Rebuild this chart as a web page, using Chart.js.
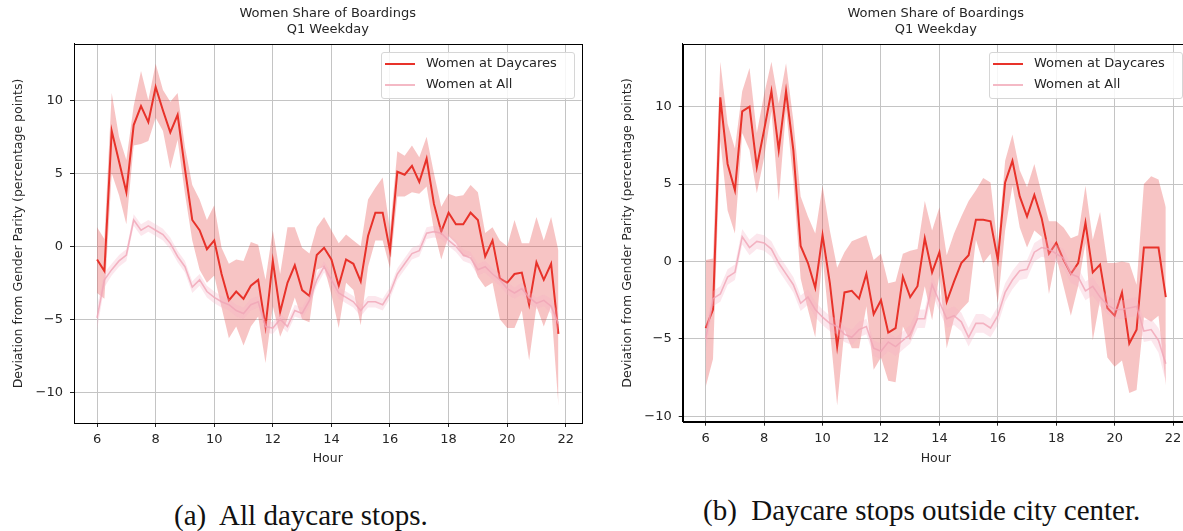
<!DOCTYPE html>
<html>
<head>
<meta charset="utf-8">
<script src="https://cdn.jsdelivr.net/npm/chart.js@4.4.1/dist/chart.umd.min.js"></script>
<style>
  html, body { margin: 0; padding: 0; background: #fff; }
  body { width: 1183px; height: 531px; overflow: hidden; position: relative; font-family: "DejaVu Sans", sans-serif; }
  canvas { position: absolute; top: 0; }
  #left-chart { left: 0; }
  #right-chart { left: 600px; }
  .legend { position: absolute; top: 52px; width: 194px; height: 47px; box-sizing: border-box;
            border: 1px solid #d6d6d6; border-radius: 3px; background: rgba(255,255,255,0.85);
            font-size: 13px; color: #262626; }
  .legend .row { position: absolute; left: 3px; height: 16px; line-height: 16px; white-space: nowrap; }
  .legend .swatch { display: inline-block; width: 30px; height: 0; vertical-align: middle; margin-right: 11px; }
  .caption { position: absolute; font-family: "Liberation Serif", "Times New Roman", serif; font-size: 29px;
             line-height: 34px; color: #111; white-space: nowrap; }
</style>
</head>
<body>
<canvas id="left-chart" width="595" height="470"></canvas>
<canvas id="right-chart" width="600" height="470"></canvas>

<div class="legend" style="left:381px;">
  <div class="row" style="top:2px;"><span class="swatch" style="border-top:2px solid #e8322a;"></span>Women at Daycares</div>
  <div class="row" style="top:23px;"><span class="swatch" style="border-top:2px solid #f4b9c5;"></span>Women at All</div>
</div>
<div class="legend" style="left:989px;">
  <div class="row" style="top:2px;"><span class="swatch" style="border-top:2px solid #e8322a;"></span>Women at Daycares</div>
  <div class="row" style="top:23px;"><span class="swatch" style="border-top:2px solid #f4b9c5;"></span>Women at All</div>
</div>

<div class="caption" style="left:174px; top:498px;">(a)&nbsp; All daycare stops.</div>
<div class="caption" style="left:703px; top:493px;">(b)&nbsp; Daycare stops outside city center.</div>

<script>
// quarter-hour bins
const hours = [6, 6.25, 6.5, 6.75, 7, 7.25, 7.5, 7.75, 8, 8.25, 8.5, 8.75, 9, 9.25, 9.5, 9.75,
  10, 10.25, 10.5, 10.75, 11, 11.25, 11.5, 11.75, 12, 12.25, 12.5, 12.75, 13, 13.25, 13.5, 13.75,
  14, 14.25, 14.5, 14.75, 15, 15.25, 15.5, 15.75, 16, 16.25, 16.5, 16.75, 17, 17.25, 17.5, 17.75,
  18, 18.25, 18.5, 18.75, 19, 19.25, 19.5, 19.75, 20, 20.25, 20.5, 20.75, 21, 21.25, 21.5, 21.75];

// (a) all daycare stops
const leftDaycare = [-0.9, -1.7, 7.9, 5.8, 3.7, 8.3, 9.6, 8.5, 10.9, 9.3, 7.8, 9.0, 5.3, 1.8, 1.1, -0.2,
  0.4, -1.9, -3.7, -3.1, -3.6, -2.7, -2.3, -5.5, -1.0, -4.5, -2.5, -1.3, -3.0, -3.4, -0.6, -0.1,
  -0.9, -2.7, -0.9, -1.2, -2.4, 0.7, 2.3, 2.3, -0.3, 5.1, 4.9, 5.5, 4.4, 6.0, 2.9, 1.0,
  2.3, 1.5, 1.5, 2.3, 1.8, -0.7, 0.4, -2.2, -2.5, -1.9, -1.8, -4.0, -1.1, -2.3, -1.2, -6.0];
const leftDaycareHigh = [1.3, 0.5, 10.5, 7.5, 5.9, 9.6, 12.0, 10.0, 12.5, 10.7, 9.9, 10.5, 6.8, 4.2, 3.2, 1.8,
  2.8, -0.1, -1.2, -0.9, -1.0, 0.3, 0.1, -2.3, 1.1, -1.9, 1.3, 1.3, -0.1, -0.5, 1.3, 2.0,
  1.1, 0.2, 0.8, 0.4, 0.0, 3.2, 4.0, 4.7, 1.1, 6.5, 6.2, 6.9, 6.1, 7.5, 5.0, 2.7,
  3.6, 3.4, 3.5, 4.2, 3.7, 0.9, 1.3, 0.4, 0.0, 1.8, 0.2, 0.2, 2.0, 0.4, 2.0, -0.3];
const leftDaycareLow = [-3.2, -3.6, 5.0, 3.5, 1.5, 6.9, 7.0, 7.2, 8.8, 7.9, 5.3, 7.3, 3.6, 0.4, -1.6, -2.5,
  -2.0, -4.2, -6.3, -5.5, -6.8, -5.5, -4.8, -8.0, -4.1, -6.2, -5.0, -3.5, -5.0, -5.2, -1.6, -1.4,
  -3.3, -5.6, -2.5, -3.0, -5.4, -1.4, 0.4, 0.4, -1.5, 3.4, 3.4, 3.7, 3.6, 4.1, 1.1, -0.9,
  0.7, 0.2, -0.7, -0.7, -2.1, -2.8, -2.5, -5.0, -5.6, -5.6, -4.4, -7.8, -4.1, -5.5, -4.1, -10.9];
const leftAll = [-4.9, -2.3, -1.6, -1.0, -0.6, 1.8, 1.1, 1.4, 1.1, 0.8, 0.2, -0.7, -1.4, -2.8, -2.3, -3.1,
  -3.5, -3.8, -4.0, -4.4, -4.6, -4.0, -3.8, -5.5, -5.6, -5.0, -5.5, -4.4, -4.6, -3.7, -2.3, -1.4,
  -2.3, -3.2, -3.5, -3.8, -4.4, -3.8, -3.8, -4.0, -3.2, -1.9, -1.2, -0.5, -0.3, 0.9, 1.0, 0.9,
  0.4, 0.0, -0.6, -0.8, -1.6, -1.4, -1.9, -2.3, -2.9, -3.2, -2.9, -3.5, -3.9, -3.7, -4.1, -5.3];
const leftAllHigh = [-4.1, -1.8, -1.2, -0.6, -0.2, 2.2, 1.5, 1.8, 1.5, 1.2, 0.6, -0.3, -1.0, -2.4, -1.9, -2.7,
  -3.1, -3.4, -3.6, -4.0, -4.2, -3.6, -3.4, -5.1, -5.2, -4.6, -5.1, -4.0, -4.2, -3.3, -1.9, -1.0,
  -1.9, -2.8, -3.1, -3.4, -4.0, -3.4, -3.4, -3.6, -2.8, -1.5, -0.8, -0.1, 0.1, 1.3, 1.4, 1.3,
  0.8, 0.4, -0.2, -0.4, -1.2, -1.0, -1.5, -1.9, -2.5, -2.8, -2.5, -3.1, -3.5, -3.3, -3.6, -4.6];
const leftAllLow = [-5.7, -2.8, -2.0, -1.4, -1.0, 1.4, 0.7, 1.0, 0.7, 0.4, -0.2, -1.1, -1.8, -3.2, -2.7, -3.5,
  -3.9, -4.2, -4.4, -4.8, -5.0, -4.4, -4.2, -5.9, -6.0, -5.4, -5.9, -4.8, -5.0, -4.1, -2.7, -1.8,
  -2.7, -3.6, -3.9, -4.2, -4.8, -4.2, -4.2, -4.4, -3.6, -2.3, -1.6, -0.9, -0.7, 0.5, 0.6, 0.5,
  0.0, -0.4, -1.0, -1.2, -2.0, -1.8, -2.3, -2.7, -3.3, -3.6, -3.3, -3.9, -4.3, -4.1, -4.6, -6.0];

// (b) daycare stops outside city center
const rightDaycare = [-4.3, -3.1, 10.6, 6.3, 4.6, 9.7, 10.0, 6.1, 8.5, 11.0, 7.2, 11.0, 7.2, 1.0, -0.1, -1.7,
  1.7, -1.4, -5.5, -2.0, -1.9, -2.4, -0.8, -3.4, -2.5, -4.6, -4.3, -1.0, -2.3, -1.6, 1.5, -0.7,
  0.6, -2.6, -1.3, -0.1, 0.4, 2.7, 2.7, 2.6, 0.1, 5.1, 6.5, 4.2, 2.9, 4.3, 2.8, 0.5,
  1.2, 0.1, -0.8, -0.1, 2.5, -0.7, -0.2, -3.0, -3.5, -2.0, -5.3, -4.4, 0.9, 0.9, 0.9, -2.3];
const rightDaycareHigh = [0.1, 0.2, 12.9, 8.9, 7.3, 11.0, 12.5, 8.3, 10.8, 12.9, 10.2, 12.8, 9.1, 4.2, 2.9, 1.8,
  4.9, 2.0, -0.4, 0.6, 1.3, 1.5, 1.7, 0.1, 0.5, -1.4, -1.3, 0.5, 0.7, 0.8, 3.9, 2.0,
  3.5, 0.4, 1.8, 2.9, 3.9, 4.6, 5.4, 5.1, 0.9, 6.5, 8.2, 5.9, 4.8, 6.3, 4.4, 2.6,
  2.6, 2.2, 1.5, 1.7, 4.9, 1.4, 3.2, -0.1, -0.1, 0.0, -0.1, -1.5, 5.0, 5.5, 5.3, 3.5];
const rightDaycareLow = [-8.1, -6.3, 7.8, 3.3, 1.8, 8.3, 7.2, 4.4, 6.7, 9.7, 3.9, 9.8, 5.2, -1.1, -3.1, -4.9,
  0.3, -4.4, -9.3, -4.4, -5.6, -5.6, -2.9, -7.0, -6.2, -7.7, -7.8, -4.2, -5.1, -3.8, -1.6, -3.8,
  -0.9, -5.6, -3.7, -3.1, -2.6, 1.4, -0.1, 0.5, -2.7, 2.0, 4.9, 2.2, 0.9, 2.0, 1.6, -2.1,
  0.3, -1.6, -3.5, -1.6, 1.2, -5.1, -2.5, -6.2, -6.8, -6.4, -8.5, -8.3, -3.6, -3.9, -3.5, -8.0];
const rightAll = [-5.0, -2.4, -2.1, -1.0, -0.7, 1.6, 0.9, 1.3, 1.2, 0.8, -0.1, -0.8, -1.5, -2.7, -2.3, -3.1,
  -3.6, -4.0, -4.2, -4.7, -4.9, -4.4, -4.2, -5.6, -5.8, -5.2, -5.5, -5.1, -4.7, -3.7, -3.7, -1.5,
  -2.6, -3.7, -3.5, -3.9, -4.9, -4.0, -4.0, -4.3, -3.5, -2.0, -1.2, -0.6, -0.5, 0.6, 0.9, 0.8,
  0.5, 0.2, -0.8, -1.0, -1.9, -1.6, -2.3, -2.8, -3.1, -3.1, -3.0, -2.9, -4.5, -4.4, -5.1, -6.6];
const rightAllHigh = [-4.2, -1.9, -1.6, -0.5, -0.2, 2.1, 1.4, 1.8, 1.7, 1.3, 0.4, -0.3, -1.0, -2.2, -1.8, -2.6,
  -3.1, -3.5, -3.7, -4.2, -4.4, -3.9, -3.7, -5.1, -5.3, -4.6, -4.9, -4.5, -4.1, -3.1, -3.1, -0.9,
  -2.0, -3.1, -2.9, -3.3, -4.3, -3.4, -3.4, -3.7, -2.9, -1.4, -0.6, 0.0, 0.1, 1.2, 1.5, 1.4,
  1.1, 0.8, -0.2, -0.4, -1.3, -1.0, -1.7, -2.2, -2.5, -2.5, -2.4, -2.3, -3.8, -3.7, -4.3, -5.4];
const rightAllLow = [-5.9, -2.9, -2.6, -1.5, -1.2, 1.1, 0.4, 0.8, 0.7, 0.3, -0.6, -1.3, -2.0, -3.2, -2.8, -3.6,
  -4.1, -4.5, -4.7, -5.2, -5.4, -4.9, -4.7, -6.1, -6.3, -5.8, -6.1, -5.7, -5.3, -4.3, -4.3, -2.1,
  -3.2, -4.3, -4.1, -4.5, -5.5, -4.6, -4.6, -4.9, -4.1, -2.6, -1.8, -1.2, -1.1, 0.0, 0.3, 0.2,
  -0.1, -0.4, -1.4, -1.6, -2.5, -2.2, -2.9, -3.4, -3.7, -3.7, -3.6, -3.5, -5.2, -5.1, -5.9, -7.8];

const chartTitle = ['Women Share of Boardings', 'Q1 Weekday'];
const xTitle = 'Hour';
const yTitle = 'Deviation from Gender Parity (percentage points)';

const RED = '#e8322a';
const RED_BAND = 'rgba(228, 60, 60, 0.3)';
const PINK = 'rgba(240, 165, 182, 0.8)';
const PINK_BAND = 'rgba(245, 175, 195, 0.3)';
const TEXT = '#262626';

function pts(arr) {
    return hours.map((h, i) => ({ x: h, y: arr[i] }));
}

// matplotlib-style box around the axes
const framePlugin = {
    id: 'frame',
    afterDraw(chart) {
        const { ctx, chartArea: a } = chart;
        ctx.save();
        ctx.strokeStyle = '#000';
        ctx.lineWidth = 1;
        ctx.strokeRect(Math.round(a.left) + 0.5, Math.round(a.top) + 0.5,
            Math.round(a.right - a.left), Math.round(a.bottom - a.top));
        ctx.restore();
    }
};

function makeChart(id, s, opts) {
    const datasets = [
        { label: 'Women at All', data: pts(s.all), borderColor: PINK, borderWidth: 1.6 },
        { label: 'all-high', data: pts(s.allHigh), borderWidth: 0, backgroundColor: PINK_BAND, fill: '+1' },
        { label: 'all-low', data: pts(s.allLow), borderWidth: 0 },
        { label: 'Women at Daycares', data: pts(s.day), borderColor: RED, borderWidth: 2 },
        { label: 'day-high', data: pts(s.dayHigh), borderWidth: 0, backgroundColor: RED_BAND, fill: '+1' },
        { label: 'day-low', data: pts(s.dayLow), borderWidth: 0 }
    ];
    datasets.forEach(d => { d.pointRadius = 0; d.tension = 0; if (!d.fill) d.fill = false; });

    return new Chart(document.getElementById(id), {
        type: 'line',
        data: { datasets },
        plugins: [framePlugin],
        options: {
            responsive: false,
            animation: false,
            devicePixelRatio: 1,
            layout: { padding: { left: 0, right: opts.rightPad, top: 0, bottom: 0 } },
            plugins: {
                legend: { display: false },
                tooltip: { enabled: false },
                title: {
                    display: true,
                    text: chartTitle,
                    fullSize: false,
                    color: TEXT,
                    font: { family: 'DejaVu Sans', size: 13, weight: 'normal', lineHeight: 1.23 },
                    padding: { top: 6, bottom: 6 }
                }
            },
            scales: {
                x: {
                    type: 'linear',
                    min: 5.2125,
                    max: 22.5375,
                    afterFit: sc => { sc.height = opts.xHeight; },
                    ticks: {
                        stepSize: 2,
                        includeBounds: false,
                        color: TEXT,
                        padding: 5,
                        maxRotation: 0,
                        font: { family: 'DejaVu Sans', size: 13 }
                    },
                    grid: { color: '#c4c4c4', lineWidth: 1, tickLength: 4, tickColor: '#222' },
                    border: { color: '#000', width: 1 },
                    title: {
                        display: true,
                        text: xTitle,
                        color: TEXT,
                        font: { family: 'DejaVu Sans', size: 12.5 },
                        padding: { top: 0, bottom: 4 }
                    }
                },
                y: {
                    min: opts.yMin,
                    max: opts.yMax,
                    afterFit: sc => { sc.width = opts.yWidth; },
                    ticks: {
                        stepSize: 5,
                        includeBounds: false,
                        color: TEXT,
                        padding: 7,
                        font: { family: 'DejaVu Sans', size: 13 },
                        callback: v => String(v).replace('-', '\u2212')
                    },
                    grid: { color: '#c4c4c4', lineWidth: 1, tickLength: 4, tickColor: '#222' },
                    border: { color: '#000', width: 1 },
                    title: {
                        display: true,
                        text: yTitle,
                        color: TEXT,
                        font: { family: 'DejaVu Sans', size: 12.5 },
                        padding: { top: opts.yTitlePad, bottom: 0 }
                    }
                }
            }
        }
    });
}

makeChart('left-chart', {
    day: leftDaycare, dayHigh: leftDaycareHigh, dayLow: leftDaycareLow,
    all: leftAll, allHigh: leftAllHigh, allLow: leftAllLow
}, { yMin: -12.1, yMax: 13.85, yWidth: 74, rightPad: 13.5, xHeight: 47, yTitlePad: 11.5 });

makeChart('right-chart', {
    day: rightDaycare, dayHigh: rightDaycareHigh, dayLow: rightDaycareLow,
    all: rightAll, allHigh: rightAllHigh, allLow: rightAllLow
}, { yMin: -10.35, yMax: 14.05, yWidth: 82.7, rightPad: 11.2, xHeight: 48.3, yTitlePad: 20 });
</script>
</body>
</html>
